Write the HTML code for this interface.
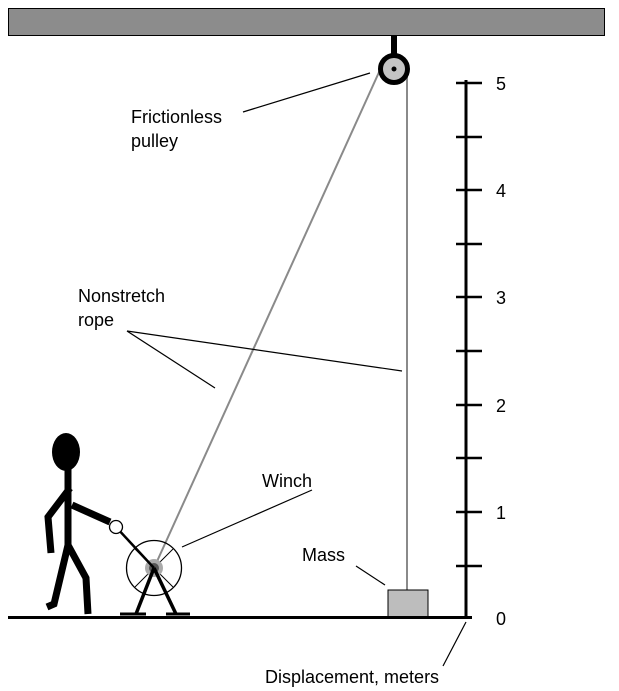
<!DOCTYPE html>
<html><head><style>body{margin:0;background:#fff}svg{display:block}text{font-family:"Liberation Sans",sans-serif;font-size:18px;fill:#000}</style></head><body>
<svg width="619" height="691" viewBox="0 0 619 691" xmlns="http://www.w3.org/2000/svg">
<rect x="8.5" y="8.5" width="596" height="27" fill="#8c8c8c" stroke="#000" stroke-width="1"/>
<rect x="391" y="36" width="6" height="20" fill="#000"/>
<line x1="380" y1="70" x2="154" y2="568" stroke="#8a8a8a" stroke-width="2"/>
<line x1="407" y1="70" x2="407" y2="590" stroke="#8a8a8a" stroke-width="2"/>
<circle cx="394" cy="69" r="13.5" fill="#c4c4c4" stroke="#000" stroke-width="5"/>
<circle cx="394" cy="69" r="2.5" fill="#000"/>
<rect x="388" y="590" width="40" height="27" fill="#bdbdbd" stroke="#000" stroke-width="1"/>
<line x1="8" y1="617.5" x2="472" y2="617.5" stroke="#000" stroke-width="3"/>
<line x1="466" y1="80" x2="466" y2="619" stroke="#000" stroke-width="3"/>
<g stroke="#000" stroke-width="2.5">
<line x1="456" y1="83" x2="482" y2="83"/><line x1="456" y1="137" x2="482" y2="137"/><line x1="456" y1="190" x2="482" y2="190"/><line x1="456" y1="244" x2="482" y2="244"/><line x1="456" y1="297" x2="482" y2="297"/><line x1="456" y1="351" x2="482" y2="351"/><line x1="456" y1="405" x2="482" y2="405"/><line x1="456" y1="458" x2="482" y2="458"/><line x1="456" y1="512" x2="482" y2="512"/><line x1="456" y1="566" x2="482" y2="566"/>
</g>
<text x="496" y="90">5</text><text x="496" y="197">4</text><text x="496" y="304">3</text><text x="496" y="412">2</text><text x="496" y="519">1</text><text x="496" y="625">0</text>
<circle cx="154" cy="568" r="27.5" fill="none" stroke="#000" stroke-width="1.3"/>
<g stroke="#000" stroke-width="1"><line x1="135" y1="549" x2="173" y2="587"/><line x1="173" y1="549" x2="135" y2="587"/></g>
<circle cx="154" cy="568" r="9" fill="#aaa"/>
<circle cx="154" cy="568" r="5" fill="#555"/>
<g stroke="#000" stroke-width="3.5"><line x1="154" y1="568" x2="136" y2="614"/><line x1="154" y1="568" x2="176" y2="614"/></g>
<g stroke="#000" stroke-width="3"><line x1="120" y1="614" x2="146" y2="614"/><line x1="166" y1="614" x2="190" y2="614"/></g>
<line x1="154" y1="568" x2="116" y2="527" stroke="#000" stroke-width="2.5"/>
<circle cx="116" cy="527" r="6.5" fill="#fff" stroke="#000" stroke-width="1.3"/>
<ellipse cx="66" cy="452" rx="14" ry="19" fill="#000"/>
<g stroke="#000" stroke-width="7" fill="none" stroke-linejoin="miter">
<polyline points="68,468 68,548"/>
<polyline points="70,488 48,517 51,553"/>
<polyline points="72,505 110,522"/>
<polyline points="68,545 54,604 47,607"/>
<polyline points="68,545 86,578 88,614"/>
</g>
<g stroke="#000" stroke-width="1.2">
<line x1="243" y1="112" x2="370" y2="73"/>
<line x1="127" y1="331" x2="215" y2="388"/><line x1="127" y1="331" x2="402" y2="371"/>
<line x1="312" y1="490" x2="182" y2="547"/>
<line x1="356" y1="566" x2="385" y2="585"/>
<line x1="443" y1="666" x2="466" y2="622"/>
</g>
<text x="131" y="123">Frictionless</text><text x="131" y="147">pulley</text>
<text x="78" y="302">Nonstretch</text><text x="78" y="326">rope</text>
<text x="262" y="487">Winch</text>
<text x="302" y="561">Mass</text>
<text x="265" y="683">Displacement, meters</text>
</svg>
</body></html>
